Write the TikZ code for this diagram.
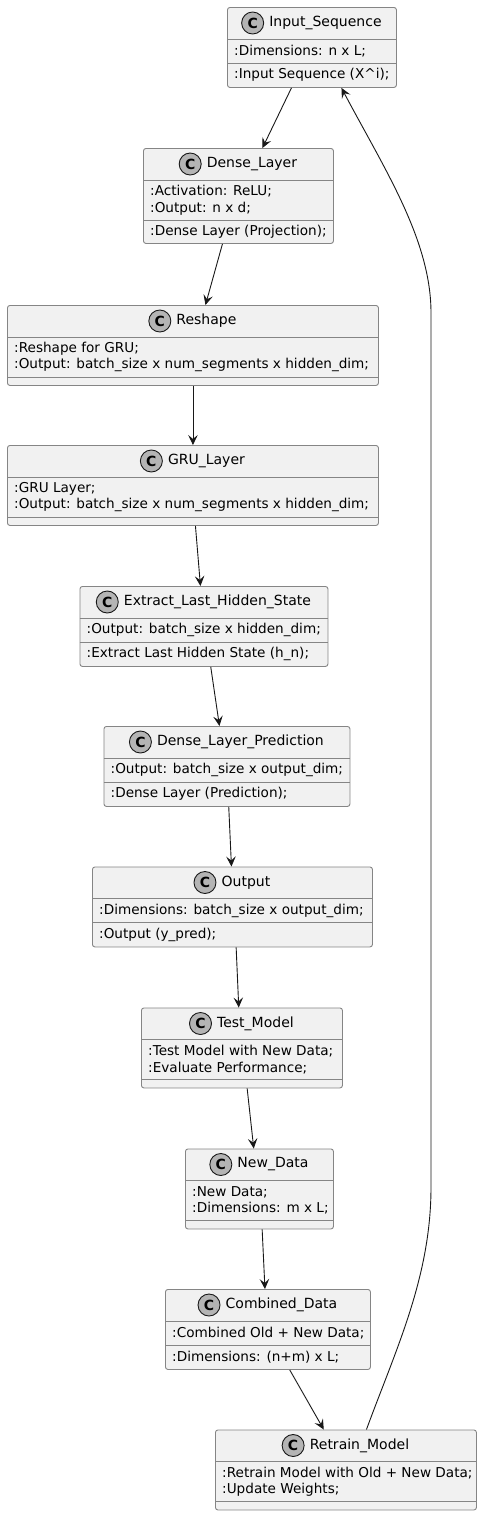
\documentclass[tikz,border=0pt]{standalone}
\usepackage{fontspec}
\setmainfont{DejaVu Sans}
\usetikzlibrary{arrows.meta, positioning, calc}
\definecolor{classfill}{HTML}{F1F1F1}
\definecolor{classdraw}{HTML}{858585}
\definecolor{iconfill}{HTML}{B4B4B4}
\definecolor{linkdraw}{HTML}{181818}
\tikzset{
	classbox/.style={draw=classdraw, fill=classfill, rounded corners=2.5pt, line width=0.9pt, inner sep=0pt},
	classsep/.style={draw=classdraw, line width=0.9pt},
	classname/.style={inner sep=0pt, font=\fontsize{14}{16}\selectfont},
	classtext/.style={inner sep=0pt, align=left, anchor=west, font=\fontsize{13.6}{16.5}\selectfont},
	cicon/.style={circle, draw=linkdraw, fill=iconfill, line width=0.9pt, minimum size=22pt, inner sep=0pt, font=\fontsize{14}{14}\bfseries\selectfont},
	flow/.style={draw=linkdraw, line width=0.9pt, -{Stealth[length=10pt,width=9.5pt,inset=4pt]}}
}
% id, left, top, width, h1, h2, name, first part, second part
\newcommand{\umlclass}[9]{%
	\node[classbox, anchor=north west, minimum width=#4pt, minimum height={(32+#5+#6)*1pt}] (#1) at (#2,#3) {};
	\node[classname] (#1-name) at ($(#1.north)+(13.5,16)$) {#7};
	\node[cicon, left=5pt of #1-name] (#1-icon) {C};
	\draw[classsep] ($(#1.north west)+(0,32)$) -- ($(#1.north east)+(0,32)$);
	\draw[classsep] ($(#1.north west)+(0,32+#5)$) -- ($(#1.north east)+(0,32+#5)$);
	\node[classtext] (#1-a) at ($(#1.north west)+(7,32+#5/2)$) {#8};
	\node[classtext] (#1-b) at ($(#1.north west)+(7,32+#5+#6/2)$) {#9};
}

\begin{document}
\begin{tikzpicture}[x=1pt, y=-1pt]
	\useasboundingbox (0,0) rectangle (482,1515);
	\umlclass{inseq}{227}{7}{169}{24}{24}{Input\_Sequence}{:Dimensions: n x L;}{:Input Sequence (X\textasciicircum i);}
	\umlclass{dense}{143}{148}{190}{40}{23}{Dense\_Layer}{:Activation: ReLU;\\:Output: n x d;}{:Dense Layer (Projection);}
	\umlclass{reshape}{7}{305}{371}{40}{8}{Reshape}{:Reshape for GRU;\\:Output: batch\_size x num\_segments x hidden\_dim;}{}
	\umlclass{gru}{7}{445}{371}{40}{8}{GRU\_Layer}{:GRU Layer;\\:Output: batch\_size x num\_segments x hidden\_dim;}{}
	\umlclass{extract}{79.5}{586}{248}{24}{24}{Extract\_Last\_Hidden\_State}{:Output: batch\_size x hidden\_dim;}{:Extract Last Hidden State (h\_n);}
	\umlclass{pred}{103.5}{726}{246}{24}{24}{Dense\_Layer\_Prediction}{:Output: batch\_size x output\_dim;}{:Dense Layer (Prediction);}
	\umlclass{output}{92}{866.5}{280}{24}{24}{Output}{:Dimensions: batch\_size x output\_dim;}{:Output (y\_pred);}
	\umlclass{test}{141}{1007.5}{201}{40}{8}{Test\_Model}{:Test Model with New Data;\\:Evaluate Performance;}{}
	\umlclass{newdata}{185}{1148.5}{148}{40}{8}{New\_Data}{:New Data;\\:Dimensions: m x L;}{}
	\umlclass{combined}{165}{1289}{205}{24}{24}{Combined\_Data}{:Combined Old + New Data;}{:Dimensions: (n+m) x L;}
	\umlclass{retrain}{215}{1429.5}{261}{40}{8}{Retrain\_Model}{:Retrain Model with Old + New Data;\\:Update Weights;}{}
	\foreach \from/\to/\a/\b in {inseq/dense/-20.5/24, dense/reshape/-16/12.5, reshape/gru/0/0, gru/extract/2.5/-3.5, extract/pred/6.8/-7.5, pred/output/1.8/-1, output/test/3.7/-3.2, test/newdata/5.2/-5.7, newdata/combined/2.7/-3, combined/retrain/21.8/-22.2}
		\draw[flow] ([xshift=\a pt]\from.south) -- ([xshift=\b pt]\to.north);
	% loop back to the input
	\coordinate (loopb) at (431,1187);
	\coordinate (loopt) at (431,313);
	\draw[flow] ([xshift=20.5pt]retrain.north) .. controls (396,1349) and (431,1277) .. (loopb) -- (loopt) .. controls (431,240) and (385,170) .. ([xshift=29.5pt]inseq.south);
\end{tikzpicture}
\end{document}
